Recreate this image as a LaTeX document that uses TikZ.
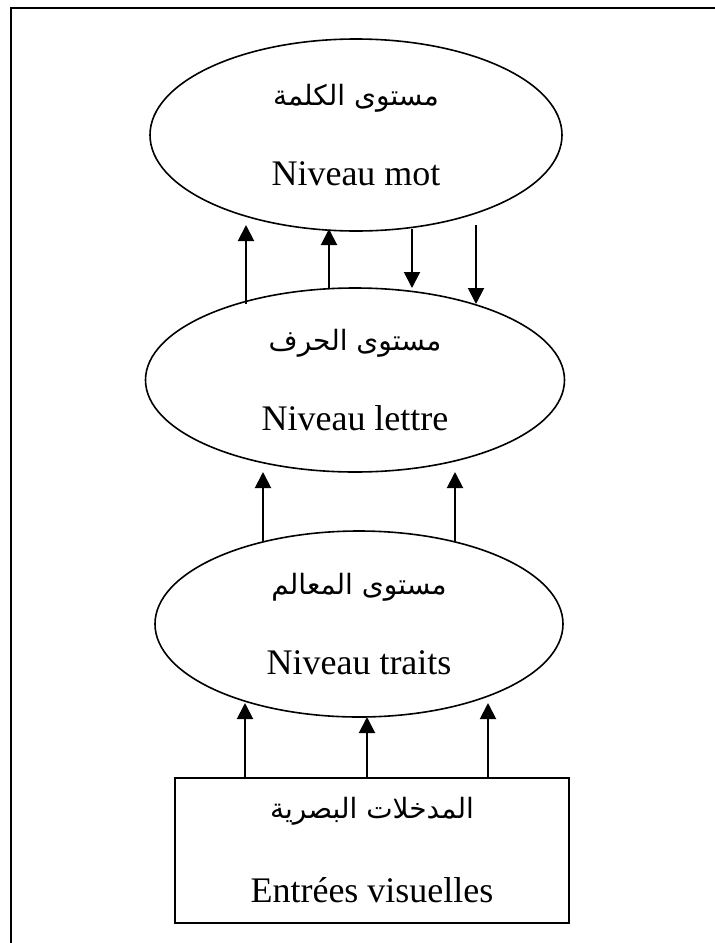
\documentclass[tikz,border=0pt]{standalone}
\usepackage{fontspec}
\setmainfont{Liberation Serif}
\newfontfamily\arabicfont[Script=Arabic]{DejaVu Sans}
\TeXXeTstate=1
\usetikzlibrary{shapes.geometric,arrows.meta,calc}

\tikzset{
    level/.style={ellipse, draw, line width=0.8pt, inner sep=0pt, align=center,
        font=\fontsize{18}{22}\selectfont},
    inputbox/.style={rectangle, draw, line width=0.8pt, inner sep=0pt, align=center,
        minimum width=197pt, minimum height=72.5pt, font=\fontsize{18}{22}\selectfont},
    up/.style={line width=1pt, -{Triangle[length=8pt,width=8pt]}}
}
\newcommand{\ar}[1]{{\arabicfont\fontsize{14}{22}\selectfont\beginR #1\endR}}

\begin{document}
\begin{tikzpicture}[x=0.5pt, y=-0.5pt]
    \useasboundingbox (0,0) rectangle (715,943);

    % Frame (top and left only)
    \draw[line width=1pt] (715,7.5) -- (11,7.5) -- (11,943);

    % Levels
    \node[level, minimum width=206pt, minimum height=96pt] (mot) at (356,135)
        {\ar{مستوى الكلمة}\\[18pt] Niveau mot};
    \node[level, minimum width=209.5pt, minimum height=92pt] (lettre) at (355,380)
        {\ar{مستوى الحرف}\\[18pt] Niveau lettre};
    \node[level, minimum width=204pt, minimum height=93pt] (traits) at (359,624)
        {\ar{مستوى المعالم}\\[18pt] Niveau traits};
    \node[inputbox] (entrees) at (372,850.5)
        {\ar{المدخلات البصرية}\\[20pt] Entrées visuelles};

    % Between word and letter levels
    \draw[up] ($(lettre.center)+(-109,-76)$) -- ($(mot.center)+(-110,90)$);
    \draw[up] ($(lettre.center)+(-26,-92)$) -- ($(mot.center)+(-27,94)$);
    \draw[up] ($(mot.center)+(56,94)$) -- ($(lettre.center)+(57,-92)$);
    \draw[up] ($(mot.center)+(120,90)$) -- ($(lettre.center)+(121,-76)$);

    % Features to letters
    \draw[up] ($(traits.center)+(-96,-83)$) -- ($(lettre.center)+(-92,92)$);
    \draw[up] ($(traits.center)+(96,-83)$) -- ($(lettre.center)+(100,92)$);

    % Visual input to features
    \draw[up] ($(entrees.north)+(-127,0)$) -- ($(traits.center)+(-114,79)$);
    \draw[up] ($(entrees.north)+(-5,0)$) -- ($(traits.center)+(8,93)$);
    \draw[up] ($(entrees.north)+(116,0)$) -- ($(traits.center)+(129,79)$);
\end{tikzpicture}
\end{document}
